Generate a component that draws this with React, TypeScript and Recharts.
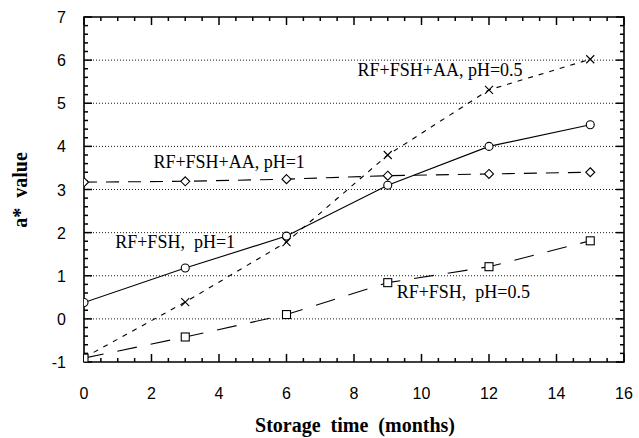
import React from 'react';
import { LineChart, Line, XAxis, YAxis, ReferenceLine, ReferenceDot, ReferenceArea } from 'recharts';

document.body.style.margin = '0';

// data
const months = [0, 3, 6, 9, 12, 15];
const fshPh1 = [0.38, 1.18, 1.92, 3.1, 4.0, 4.5];
const fshAaPh05 = [-0.9, 0.39, 1.78, 3.8, 5.31, 6.02];
const fshAaPh1 = [3.17, 3.19, 3.24, 3.32, 3.36, 3.4];
const fshPh05 = [-0.91, -0.42, 0.1, 0.84, 1.21, 1.81];

// axis labels
const xTickLabels = [0, 2, 4, 6, 8, 10, 12, 14, 16];
const yTickLabels = [-1, 0, 1, 2, 3, 4, 5, 6, 7];
const gridValues = [0, 1, 2, 3, 4, 5, 6];

// in-plot annotations (x, baseline y in data units)
const notes = [
    { text: 'RF+FSH+AA, pH=0.5', x: 10.55, y: 5.63 },
    { text: 'RF+FSH+AA, pH=1', x: 4.3, y: 3.5 },
    { text: 'RF+FSH,  pH=1', x: 2.7, y: 1.64 },
    { text: 'RF+FSH,  pH=0.5', x: 11.24, y: 0.48 },
];

const data = months.map((m, i) => ({
    month: m,
    fshPh1: fshPh1[i],
    fshAaPh05: fshAaPh05[i],
    fshAaPh1: fshAaPh1[i],
    fshPh05: fshPh05[i],
}));

// minor tick positions
const steps = (from: number, to: number, step: number) =>
    Array.from({ length: Math.round((to - from) / step) + 1 }, (_, i) => Math.round((from + i * step) * 100) / 100);
const xMinor = steps(0, 16, 0.5);
const yMinor = steps(-1, 7, 0.2);

const X_MIN = 0, X_MAX = 16, Y_MIN = -1, Y_MAX = 7;

const SANS = '"Liberation Sans", Arial, Helvetica, sans-serif';
const SERIF = '"Liberation Serif", "Times New Roman", Times, serif';
const INK = '#000';

const isMajorX = (v: number) => xTickLabels.includes(v);
const isMajorY = (v: number) => yTickLabels.includes(v);

// bottom / left labels
const bottomTick = (props: any) => {
    const { x, y, payload, index } = props;
    if (!isMajorX(payload.value)) return <g key={`bt-${index}`} />;
    return (
        <text key={`bt-${index}`} x={x} y={y + 37} textAnchor="middle" fontFamily={SANS} fontSize={16} fill={INK}>{payload.value}</text>
    );
};

const leftTick = (props: any) => {
    const { x, y, payload, index } = props;
    if (!isMajorY(payload.value)) return <g key={`lt-${index}`} />;
    return (
        <text key={`lt-${index}`} x={x - 18} y={y + 6} textAnchor="end" fontFamily={SANS} fontSize={16} fill={INK}>{payload.value}</text>
    );
};

// inward tick marks, drawn at reference points on the frame
const tickMark = (dx: number, dy: number) => (p: any) => (
    <path d={`M${p.cx},${p.cy}l${dx},${dy}`} stroke={INK} strokeWidth={1.5} fill="none" />
);

// markers
const CircleDot = (p: any) => <circle key={`c-${p.index}`} cx={p.cx} cy={p.cy} r={4} fill="#fff" stroke={INK} strokeWidth={1.1} />;
const CrossDot = (p: any) => (
    <path key={`x-${p.index}`} d={`M${p.cx - 4},${p.cy - 4}L${p.cx + 4},${p.cy + 4}M${p.cx - 4},${p.cy + 4}L${p.cx + 4},${p.cy - 4}`} stroke={INK} strokeWidth={1.1} fill="none" />
);
const DiamondDot = (p: any) => (
    <path key={`d-${p.index}`} d={`M${p.cx},${p.cy - 4.5}L${p.cx + 4.5},${p.cy}L${p.cx},${p.cy + 4.5}L${p.cx - 4.5},${p.cy}Z`} fill="#fff" stroke={INK} strokeWidth={1.1} />
);
const SquareDot = (p: any) => <rect key={`s-${p.index}`} x={p.cx - 4} y={p.cy - 4} width={8} height={8} fill="#fff" stroke={INK} strokeWidth={1.1} />;

const NoteShape = (text: string) => (p: any) => (
    <text x={p.cx} y={p.cy} textAnchor="middle" fontFamily={SERIF} fontSize={18} fill={INK} style={{ whiteSpace: 'pre' }}>{text}</text>
);

export default function App() {
    return (
        <div style={{ position: 'relative', width: 639, height: 438, background: '#fff' }}>
            <LineChart width={639} height={438} data={data} margin={{ top: 17, right: 15, bottom: 0, left: 0 }}>
                <XAxis dataKey="month" type="number" domain={[X_MIN, X_MAX]} ticks={xTickLabels} interval={0} allowDataOverflow
                    height={76} tickSize={0} tickMargin={0} tickLine={false} tick={bottomTick} axisLine={false} />
                <YAxis type="number" domain={[Y_MIN, Y_MAX]} ticks={yTickLabels} interval={0} allowDataOverflow
                    width={84} tickSize={0} tickMargin={0} tickLine={false} tick={leftTick} axisLine={false} />

                {gridValues.map((v) => (
                    <ReferenceLine key={`g-${v}`} y={v} stroke={INK} strokeWidth={0.9} strokeDasharray="1 2" />
                ))}

                {/* plot frame */}
                <ReferenceArea x1={X_MIN} x2={X_MAX} y1={Y_MIN} y2={Y_MAX} fill="none" fillOpacity={0} stroke={INK} strokeWidth={1.6} strokeOpacity={1} ifOverflow="visible" />

                {xMinor.map((v) => (
                    <ReferenceDot key={`bt-${v}`} x={v} y={Y_MIN} r={1} ifOverflow="visible" shape={tickMark(0, isMajorX(v) ? -8 : -4)} />
                ))}
                {xMinor.map((v) => (
                    <ReferenceDot key={`tt-${v}`} x={v} y={Y_MAX} r={1} ifOverflow="visible" shape={tickMark(0, isMajorX(v) ? 8 : 4)} />
                ))}
                {yMinor.map((v) => (
                    <ReferenceDot key={`lt-${v}`} x={X_MIN} y={v} r={1} ifOverflow="visible" shape={tickMark(isMajorY(v) ? 8 : 4, 0)} />
                ))}
                {yMinor.map((v) => (
                    <ReferenceDot key={`rt-${v}`} x={X_MAX} y={v} r={1} ifOverflow="visible" shape={tickMark(isMajorY(v) ? -8 : -4, 0)} />
                ))}

                <Line type="linear" dataKey="fshPh1" stroke={INK} strokeWidth={1.1} dot={CircleDot} isAnimationActive={false} />
                <Line type="linear" dataKey="fshAaPh05" stroke={INK} strokeWidth={1.1} strokeDasharray="5 6" dot={CrossDot} isAnimationActive={false} />
                <Line type="linear" dataKey="fshAaPh1" stroke={INK} strokeWidth={1.1} strokeDasharray="13 9" dot={DiamondDot} isAnimationActive={false} />
                <Line type="linear" dataKey="fshPh05" stroke={INK} strokeWidth={1.1} strokeDasharray="20 14" dot={SquareDot} isAnimationActive={false} />

                {notes.map((n) => (
                    <ReferenceDot key={n.text} x={n.x} y={n.y} r={1} shape={NoteShape(n.text)} />
                ))}
            </LineChart>

            <div style={{ position: 'absolute', left: 155, top: 414, width: 400, lineHeight: '22px', textAlign: 'center', whiteSpace: 'pre', fontFamily: SERIF, fontWeight: 'bold', fontSize: 20, color: INK }}>
                {'Storage  time  (months)'}
            </div>
            <div style={{ position: 'absolute', left: -80, top: 178, width: 200, lineHeight: '24px', textAlign: 'center', whiteSpace: 'pre', fontFamily: SERIF, fontWeight: 'bold', fontSize: 20, color: INK, transform: 'rotate(-90deg)' }}>
                {'a*  value'}
            </div>
        </div>
    );
}
